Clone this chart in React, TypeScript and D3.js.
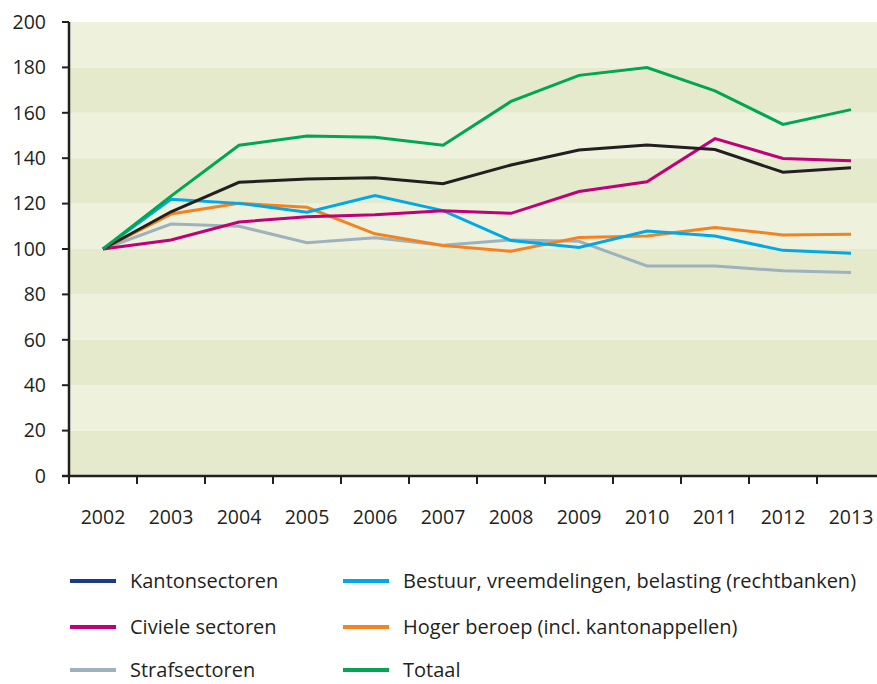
import React from "react";
import * as d3 from "d3";

const years = ["2002","2003","2004","2005","2006","2007","2008","2009","2010","2011","2012","2013"];
const kanton = [100,116.4,129.4,130.8,131.4,128.8,137,143.6,145.8,143.8,133.8,135.8];
const civiel = [100,104,111.9,114.2,115.1,116.9,115.7,125.3,129.6,148.6,139.9,138.9];
const straf = [100,111,110,102.8,105,101.6,104,103.4,92.5,92.5,90.4,89.6];
const bestuur = [100,121.9,120.1,116.2,123.5,116.9,103.7,100.7,107.9,105.7,99.4,98.1];
const hoger = [100,115.4,120.1,118.4,106.7,101.5,99,105.1,105.7,109.5,106.2,106.5];
const totaal = [100,123.3,145.7,149.8,149.2,145.7,165,176.5,179.9,169.7,154.9,161.4];
const yTicks = [0,20,40,60,80,100,120,140,160,180,200];

const series = [
  { name: "Strafsectoren", values: straf, color: "#9db1bf", legend: "#9db1bf" },
  { name: "Hoger beroep (incl. kantonappellen)", values: hoger, color: "#f58220", legend: "#f58220" },
  { name: "Bestuur, vreemdelingen, belasting (rechtbanken)", values: bestuur, color: "#00a9e6", legend: "#00a9e6" },
  { name: "Civiele sectoren", values: civiel, color: "#bf0078", legend: "#bf0078" },
  { name: "Kantonsectoren", values: kanton, color: "#231f20", legend: "#1b3a8c" },
  { name: "Totaal", values: totaal, color: "#00a651", legend: "#00a651" },
];

const legendOrder = [
  ["Kantonsectoren", "Bestuur, vreemdelingen, belasting (rechtbanken)"],
  ["Civiele sectoren", "Hoger beroep (incl. kantonappellen)"],
  ["Strafsectoren", "Totaal"],
];

export default function App() {
  const W = 877, H = 684;
  const left = 69, right = 885, top = 22, bottom = 476;
  const x = d3.scaleBand<string>().domain(years).range([left, right]);
  const y = d3.scaleLinear().domain([0, 200]).range([bottom, top]);
  const cx = (yr: string) => (x(yr) as number) + x.bandwidth() / 2;
  const line = d3.line<number>().x((_, i) => cx(years[i])).y(d => y(d));
  const font = "'Open Sans', Lato, sans-serif";
  const txt = "#231f20";
  const bands = d3.range(0, 200, 20);
  const byName = (n: string) => series.find(s => s.name === n)!;
  const rowY = [581, 627, 670];
  const colX = [70, 343];

  return (
    <svg width={W} height={H} style={{ position: "absolute", left: 0, top: 0, background: "#fff" }} fontFamily={font}>
      {bands.map(b => (
        <rect key={b} x={left} y={y(b + 20)} width={right - left} height={y(b) - y(b + 20)}
          fill={(b / 20) % 2 === 0 ? "#e4eacb" : "#eef2dd"} />
      ))}
      {series.map(s => (
        <path key={s.name} d={line(s.values) || ""} fill="none" stroke={s.color} strokeWidth={3} strokeLinejoin="miter" />
      ))}
      <line x1={left} x2={left} y1={top} y2={bottom} stroke={txt} strokeWidth={2.5} />
      <line x1={left - 7} x2={right} y1={bottom} y2={bottom} stroke={txt} strokeWidth={2.5} />
      {yTicks.map(t => (
        <g key={t}>
          <line x1={left - 7} x2={left} y1={y(t)} y2={y(t)} stroke={txt} strokeWidth={2} />
          <text x={46} y={y(t)} dy="0.35em" textAnchor="end" fontSize={19.5} fill={txt}>{t}</text>
        </g>
      ))}
      {years.map(yr => (
        <g key={yr}>
          <line x1={x(yr) as number} x2={x(yr) as number} y1={bottom} y2={bottom + 8} stroke={txt} strokeWidth={2} />
          <text x={cx(yr)} y={517} dy="0.35em" textAnchor="middle" fontSize={19.5} fill={txt}>{yr}</text>
        </g>
      ))}
      {legendOrder.map((row, ri) => row.map((n, ci) => {
        const s = byName(n);
        return (
          <g key={n}>
            <line x1={colX[ci]} x2={colX[ci] + 46} y1={rowY[ri]} y2={rowY[ri]} stroke={s.legend} strokeWidth={4} />
            <text x={colX[ci] + 60} y={rowY[ri]} dy="0.35em" fontSize={20} fill={txt}>{n}</text>
          </g>
        );
      }))}
    </svg>
  );
}
